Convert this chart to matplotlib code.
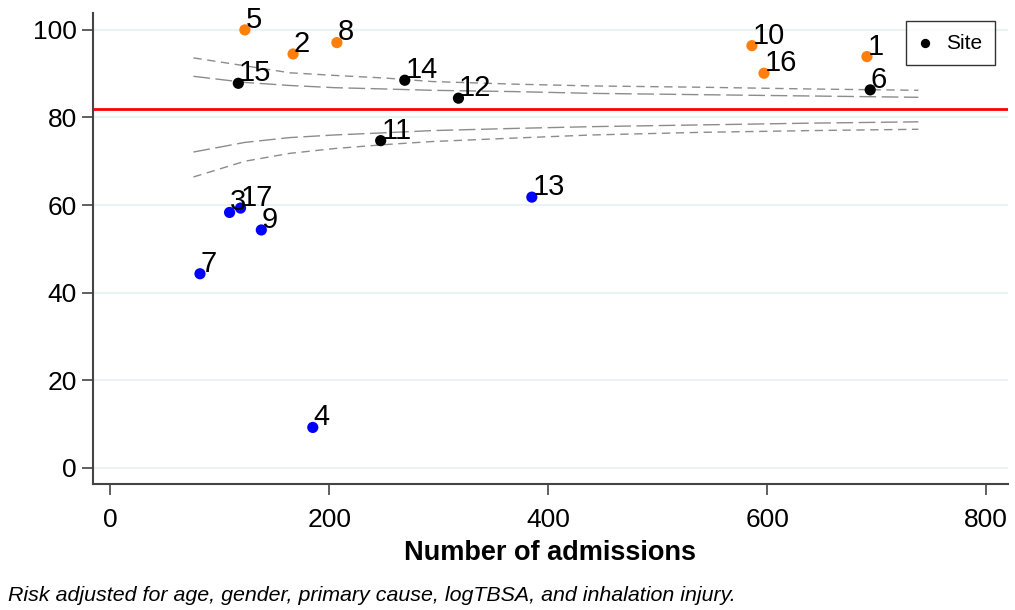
import matplotlib.pyplot as plt

# Site results: admissions, risk adjusted survival (%)
site_ids = ["1", "2", "3", "4", "5", "6", "7", "8", "9", "10", "11", "12", "13", "14", "15", "16", "17"]
admissions = [691, 167, 109, 185, 123, 694, 82, 207, 138, 586, 247, 318, 385, 269, 117, 597, 119]
survival = [93.9, 94.5, 58.3, 9.2, 100.0, 86.3, 44.3, 97.1, 54.3, 96.4, 74.7, 84.4, 61.8, 88.5, 87.8, 90.1, 59.3]
site_group = ["high", "high", "low", "low", "high", "mid", "low", "high", "low", "high",
              "mid", "mid", "low", "mid", "mid", "high", "low"]

overall_rate = 81.9

# funnel limits
funnel_n = [76, 123, 164, 205, 251, 294, 370, 440, 540, 640, 738]
upper_outer = [93.6, 91.8, 90.2, 89.6, 89.0, 88.2, 87.6, 87.2, 86.9, 86.5, 86.2]
upper_inner = [89.4, 88.0, 87.3, 86.8, 86.5, 86.2, 85.9, 85.5, 85.2, 84.9, 84.6]
lower_inner = [72.1, 74.3, 75.4, 76.0, 76.5, 77.0, 77.5, 77.9, 78.3, 78.7, 79.0]
lower_outer = [66.4, 70.0, 71.8, 72.9, 73.8, 74.5, 75.3, 76.0, 76.6, 77.0, 77.3]

x_ticks = [0, 200, 400, 600, 800]
y_ticks = [0, 20, 40, 60, 80, 100]

group_colors = {"high": "#FF7F0E", "mid": "black", "low": "#0000FF"}

plt.rcParams["font.family"] = ["Liberation Sans", "DejaVu Sans"]

fig = plt.figure(figsize=(10.15, 6.10), dpi=100)
ax = fig.add_axes([0.0913, 0.206, 0.902, 0.773])

for y in y_ticks:
    ax.axhline(y, color="#EAF2F3", lw=1.5, zorder=0)

ax.axhline(overall_rate, color="#FF0000", lw=2, zorder=2)

gray = "#8C8C8C"
ax.plot(funnel_n, upper_outer, color=gray, lw=1, dashes=(6, 4), zorder=1)
ax.plot(funnel_n, lower_outer, color=gray, lw=1, dashes=(6, 4), zorder=1)
ax.plot(funnel_n, upper_inner, color=gray, lw=1, dashes=(12, 4), zorder=1)
ax.plot(funnel_n, lower_inner, color=gray, lw=1, dashes=(12, 4), zorder=1)

colors = [group_colors[g] for g in site_group]
ax.scatter(admissions, survival, s=65, c=colors, linewidths=0, zorder=3)
ax.scatter([], [], s=45, c="black", linewidths=0, label="Site")

for sid, x, y in zip(site_ids, admissions, survival):
    ax.annotate(sid, (x, y), xytext=(0.5, 1.5), textcoords="offset points",
                ha="left", va="baseline", fontsize=21, zorder=4)

ax.set_xlim(-16, 820)
ax.set_ylim(-3.8, 103.9)
ax.set_xticks(x_ticks)
ax.set_yticks(y_ticks)
ax.tick_params(labelsize=19, length=8, width=1.2, color="#444444", direction="out")
ax.tick_params(axis="y", pad=3.5)
ax.tick_params(axis="x", pad=9)

for side in ["top", "right"]:
    ax.spines[side].set_visible(False)
for side in ["left", "bottom"]:
    ax.spines[side].set_color("#444444")
    ax.spines[side].set_linewidth(1.5)

ax.set_xlabel("Number of admissions", fontsize=19.5, fontweight="bold", labelpad=6)

leg = ax.legend(loc="upper right", bbox_to_anchor=(0.9856, 0.9826), fontsize=15,
                frameon=True, fancybox=False, handletextpad=0.75, borderpad=0.6,
                handlelength=0.6, borderaxespad=0)
leg.get_frame().set_edgecolor("black")
leg.get_frame().set_linewidth(1)

fig.text(0.008, 0.015, "Risk adjusted for age, gender, primary cause, logTBSA, and inhalation injury.",
         fontsize=15.4, style="italic")

fig.savefig("out.png", dpi=100)
